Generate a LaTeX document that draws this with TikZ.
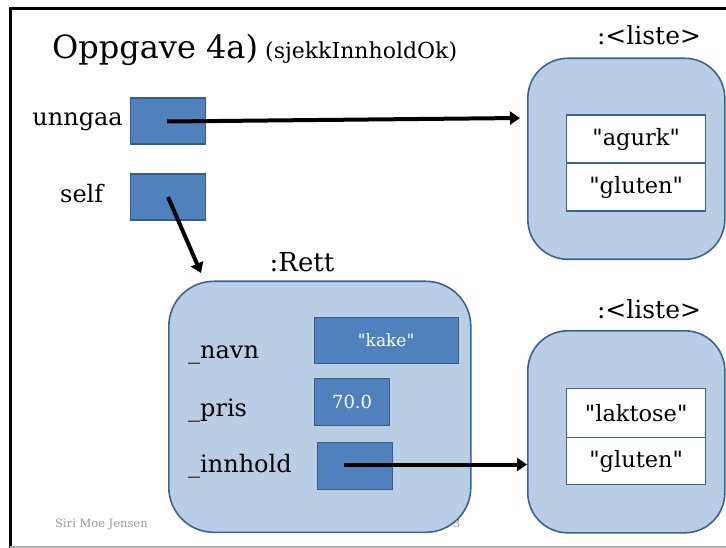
\documentclass[tikz,border=0pt]{standalone}
\usepackage{fontspec}
\setmainfont{DejaVu Serif}[Ligatures=ResetAll]
\newfontfamily\qfont{DejaVu Sans}[Ligatures=ResetAll]
\usetikzlibrary{arrows.meta}
\definecolor{objfill}{HTML}{B9CDE5}
\definecolor{objline}{HTML}{3A6497}
\definecolor{reffill}{HTML}{4F81BD}
\definecolor{refline}{HTML}{385D8A}
\definecolor{footgray}{HTML}{9A9A9A}
\newcommand{\qmk}{{\qfont\char34}}
\tikzset{
  objbox/.style={draw=objline, line width=1.6pt, fill=objfill, rounded corners=40pt, minimum width=#1, inner sep=0pt},
  refbox/.style={draw=refline, line width=1.2pt, fill=reffill, inner sep=0pt, anchor=north west, text=white, font=\fontsize{17}{20}\selectfont},
  cellbox/.style={draw=objline, line width=1.3pt, fill=white, inner sep=0pt, minimum width=139pt, minimum height=48pt, font=\fontsize{22.5}{26}\selectfont},
  lbl/.style={inner sep=0pt, font=\fontsize{24}{28}\selectfont},
  ptr/.style={line width=4pt, -{Triangle[length=10pt,width=13pt]}},
}
\begin{document}
\begin{tikzpicture}[x=1pt,y=-1pt]
\useasboundingbox (0,0) rectangle (726,548);
% frame
\draw[line width=3pt] (10,548) -- (10,8.5) -- (726,8.5);
\draw[footgray!80, line width=2pt] (10,546.5) -- (726,546.5);
% footer
\node[anchor=base west, inner sep=0pt, text=footgray, font=\fontsize{11.5}{14}\selectfont] (foot) at (55,527) {Siri Moe Jensen};
\node[anchor=base west, inner sep=0pt, text=footgray, font=\fontsize{11.5}{14}\selectfont] (pnum) at (453,527) {3};
% title
\node[anchor=base west, inner sep=0pt, font=\fontsize{32}{38}\selectfont] (title) at (52,59) {Oppgave 4a)};
\node[anchor=base west, inner sep=0pt, font=\fontsize{22}{26}\selectfont] (sub) at (265,59) {(sjekkInnholdOk)};
% variables
\node[refbox, minimum width=75pt, minimum height=46pt] (ub) at (129.5,97.5) {};
\node[lbl, anchor=east] (ul) at (123,122) {unngaa};
\node[refbox, minimum width=75pt, minimum height=46pt] (sb) at (129.5,173.5) {};
\node[lbl, anchor=west] (sl) at (60,194) {self};
% top list
\node[anchor=base, inner sep=0pt, font=\fontsize{25}{30}\selectfont] (l1t) at (649,45) {:<liste>};
\node[objbox=197pt, minimum height=201pt, anchor=north west] (l1) at (527,57.5) {};
\node[cellbox, anchor=north west] (l1a) at (566,114.5) {\qmk agurk\qmk};
\node[cellbox, anchor=north west] (l1b) at (566,162.5) {\qmk gluten\qmk};
% Rett object
\node[anchor=base, inner sep=0pt, font=\fontsize{26}{30}\selectfont] (rt) at (302,272) {:Rett};
\node[objbox=302pt, minimum height=251pt, anchor=north west, rounded corners=45pt] (rett) at (168,280.5) {};
\node[refbox, minimum width=144pt, minimum height=46pt] (kake) at (313.5,317) {\qmk kake\qmk};
\node[refbox, minimum width=75pt, minimum height=47pt, font=\fontsize{18}{22}\selectfont] (pris) at (314,378) {70.0};
\node[refbox, minimum width=75pt, minimum height=47pt] (inh) at (316.5,442) {};
\node[lbl, anchor=base west] (nl) at (188,358) {\_navn};
\node[lbl, anchor=base west] (pl) at (188,416) {\_pris};
\node[lbl, anchor=base west] (il) at (188,472) {\_innhold};
% bottom list
\node[anchor=base, inner sep=0pt, font=\fontsize{25}{30}\selectfont] (l2t) at (649,318) {:<liste>};
\node[objbox=197pt, minimum height=202pt, anchor=north west] (l2) at (527,330) {};
\node[cellbox, anchor=north west, minimum height=49pt] (l2a) at (566,388) {\qmk laktose\qmk};
\node[cellbox, anchor=north west, minimum height=47pt] (l2b) at (566,437) {\qmk gluten\qmk};
% connectors
\coordinate (a1s) at (167,121.5);
\coordinate (a1e) at (520,118);
\draw[ptr] (a1s) -- (a1e);
\coordinate (a2s) at (168,197);
\coordinate (a2e) at (201,273);
\draw[ptr] (a2s) -- (a2e);
\coordinate (a3s) at (344,464.5);
\draw[ptr] (a3s) -- (l2.west |- a3s);
\end{tikzpicture}
\end{document}
